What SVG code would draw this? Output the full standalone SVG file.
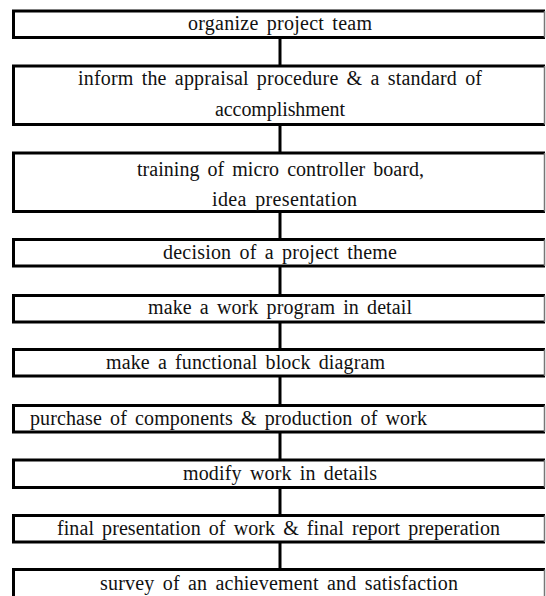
<svg xmlns="http://www.w3.org/2000/svg" width="546" height="596" viewBox="0 0 546 596">
<style>
.edge{fill:none;stroke:#000;stroke-width:3}
.redge{stroke:#777;stroke-width:1.5}
.conn{stroke:#000;stroke-width:3}
.t{font-family:'Liberation Serif','DejaVu Serif','Times New Roman',serif;font-size:20px;word-spacing:3px;fill:#111}
</style>
<rect width="546" height="596" fill="#fff"/>
<g id="connectors">
<line class="conn" x1="280" y1="37" x2="280" y2="66"/>
<line class="conn" x1="280" y1="124" x2="280" y2="153"/>
<line class="conn" x1="280" y1="211" x2="280" y2="240"/>
<line class="conn" x1="280" y1="266" x2="280" y2="296"/>
<line class="conn" x1="280" y1="322" x2="280" y2="350"/>
<line class="conn" x1="280" y1="376" x2="280" y2="406"/>
<line class="conn" x1="280" y1="432" x2="280" y2="460"/>
<line class="conn" x1="280" y1="487" x2="280" y2="516"/>
<line class="conn" x1="280" y1="542" x2="280" y2="570"/>
</g>
<g id="n1"><path class="edge" d="M545,11H13.5V37.5H545"/><line class="redge" x1="544.5" y1="11" x2="544.5" y2="37.5"/><text class="t" x="188" y="30" textLength="184" lengthAdjust="spacing">organize project team</text></g>
<g id="n2"><path class="edge" d="M545,66H13.5V124.5H545"/><line class="redge" x1="544.5" y1="66" x2="544.5" y2="124.5"/><text class="t" x="78" y="85" textLength="404" lengthAdjust="spacing">inform the appraisal procedure &amp; a standard of</text><text class="t" x="215" y="116" textLength="130" lengthAdjust="spacing">accomplishment</text></g>
<g id="n3"><path class="edge" d="M545,153H13.5V211.5H545"/><line class="redge" x1="544.5" y1="153" x2="544.5" y2="211.5"/><text class="t" x="137" y="176" textLength="287" lengthAdjust="spacing">training of micro controller board,</text><text class="t" x="212" y="206" textLength="145" lengthAdjust="spacing">idea presentation</text></g>
<g id="n4"><path class="edge" d="M545,239.5H13.5V266H545"/><line class="redge" x1="544.5" y1="239.5" x2="544.5" y2="266"/><text class="t" x="163" y="259" textLength="234" lengthAdjust="spacing">decision of a project theme</text></g>
<g id="n5"><path class="edge" d="M545,295.5H13.5V322H545"/><line class="redge" x1="544.5" y1="295.5" x2="544.5" y2="322"/><text class="t" x="148" y="314" textLength="264" lengthAdjust="spacing">make a work program in detail</text></g>
<g id="n6"><path class="edge" d="M545,349.5H13.5V376H545"/><line class="redge" x1="544.5" y1="349.5" x2="544.5" y2="376"/><text class="t" x="106" y="369" textLength="279" lengthAdjust="spacing">make a functional block diagram</text></g>
<g id="n7"><path class="edge" d="M545,405.5H13.5V432H545"/><line class="redge" x1="544.5" y1="405.5" x2="544.5" y2="432"/><text class="t" x="30" y="425" textLength="397" lengthAdjust="spacing">purchase of components &amp; production of work</text></g>
<g id="n8"><path class="edge" d="M545,460H13.5V487.5H545"/><line class="redge" x1="544.5" y1="460" x2="544.5" y2="487.5"/><text class="t" x="183" y="480" textLength="194" lengthAdjust="spacing">modify work in details</text></g>
<g id="n9"><path class="edge" d="M545,515.5H13.5V542H545"/><line class="redge" x1="544.5" y1="515.5" x2="544.5" y2="542"/><text class="t" x="57" y="535" textLength="443" lengthAdjust="spacing">final presentation of work &amp; final report preperation</text></g>
<g id="n10"><path class="edge" d="M545,569.5H13.5V600"/><line class="redge" x1="544.5" y1="569.5" x2="544.5" y2="596"/><text class="t" x="100" y="590" textLength="358" lengthAdjust="spacing">survey of an achievement and satisfaction</text></g>
</svg>
